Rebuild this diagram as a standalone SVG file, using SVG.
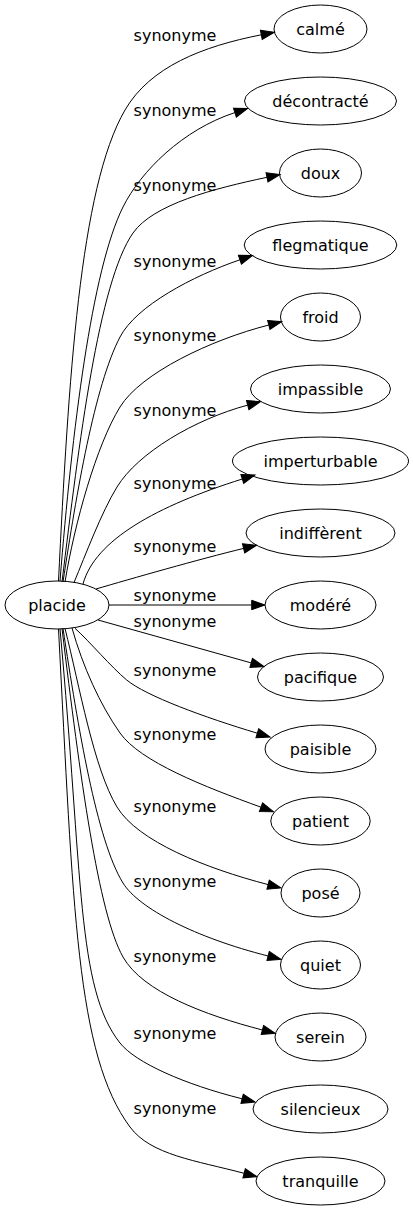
<svg xmlns="http://www.w3.org/2000/svg" width="413" height="1211" viewBox="0 0 413 1211">
<defs>
<style>
text{font-family:"DejaVu Sans","Liberation Sans",sans-serif;font-size:16px;fill:#000}
.n ellipse{fill:none;stroke:#000;stroke-width:1}
.n text{text-anchor:middle}
.e path{fill:none;stroke:#000;stroke-width:1;marker-end:url(#arr)}
.l text{text-anchor:middle}
</style>
<marker id="arr" markerUnits="userSpaceOnUse" markerWidth="15" markerHeight="11" refX="0" refY="4.7" orient="auto" overflow="visible">
<path d="M0,0 L13.3,4.7 L0,9.4 Z" fill="#000" stroke="#000" stroke-width="1"/>
</marker>
</defs>
<rect width="413" height="1211" fill="#fff"/>
<g id="edges" class="e">
<path d="M58.5,581 C68.5,381 79.7,187.9 125,110 C150.2,66.8 202.2,46.4 261.3,34.8"/>
<path d="M60,581 C72,431 91.7,269.6 123,207 C140.9,171.2 182.65,129.65 234.9,112.6"/>
<path d="M62,582 C79,443 98.6,282.1 133,233 C153.1,204.3 213.2,188.7 267,177.3"/>
<path d="M63,582 C76.5,493 94.6,385.8 120,337 C136.1,306 192.6,276 239.9,259.8"/>
<path d="M65,582 C74.7,522.8 96.4,445.3 120,407 C141,373 210.7,339.8 268.8,325"/>
<path d="M74,582.5 C85.6,554.8 101.3,512.6 117,487 C137.9,452.9 194.6,419.3 247.7,405.1"/>
<path d="M83,584 C95,540 156.4,506.1 242.3,479"/>
<path d="M96,589 C130,579 200,559 243.6,548.4"/>
<path d="M109,605 L251.7,605"/>
<path d="M98,620 L251.2,662.9"/>
<path d="M75,628.3 C89.8,641.7 111.3,667.2 126.7,680 C146,696 204.6,717.4 257.3,733.2"/>
<path d="M72,628 C82.8,666.5 99.9,704.4 120,733 C140.1,761.6 204.6,786.8 261,807.2"/>
<path d="M65,628.5 C79.6,686.2 93.7,768.5 117,807 C137.7,841.2 205.25,868.2 268.1,884.6"/>
<path d="M63,628.5 C78,727 96.65,840.5 123,883 C138.8,908.5 195.4,937.6 268.1,956"/>
<path d="M62,628.5 C80,777 98.4,913.5 123,957 C142.7,991.8 204.3,1014.9 262.4,1030"/>
<path d="M60,629 C83,878 76.6,988.1 120,1043 C135.5,1062.6 183.9,1084.2 242.1,1098.8"/>
<path d="M58.5,629 C73.3,908.6 76.2,1054.8 130,1127 C150.9,1155.1 195.75,1160.5 244.1,1173.3"/>
</g>
<g id="labels" class="l">
<text x="175" y="41">synonyme</text>
<text x="175" y="116">synonyme</text>
<text x="175" y="191">synonyme</text>
<text x="175" y="267">synonyme</text>
<text x="175" y="341">synonyme</text>
<text x="175" y="416">synonyme</text>
<text x="175" y="489">synonyme</text>
<text x="175" y="552">synonyme</text>
<text x="175" y="601">synonyme</text>
<text x="175" y="627">synonyme</text>
<text x="175" y="676">synonyme</text>
<text x="175" y="740">synonyme</text>
<text x="175" y="812">synonyme</text>
<text x="175" y="887">synonyme</text>
<text x="175" y="962">synonyme</text>
<text x="175" y="1039">synonyme</text>
<text x="175" y="1114">synonyme</text>
</g>
<g id="placide" class="n"><ellipse cx="57" cy="605" rx="52" ry="24"/><text x="57" y="610.5">placide</text></g>
<g id="calme" class="n"><ellipse cx="320.5" cy="29" rx="46.5" ry="24"/><text x="320.5" y="34.5">calmé</text></g>
<g id="decontracte" class="n"><ellipse cx="320.5" cy="101" rx="76" ry="24"/><text x="320.5" y="106.5">décontracté</text></g>
<g id="doux" class="n"><ellipse cx="320.5" cy="173" rx="41" ry="24"/><text x="320.5" y="178.5">doux</text></g>
<g id="flegmatique" class="n"><ellipse cx="320.5" cy="245" rx="76.3" ry="24"/><text x="320.5" y="250.5">flegmatique</text></g>
<g id="froid" class="n"><ellipse cx="320.5" cy="317" rx="40" ry="24"/><text x="320.5" y="322.5">froid</text></g>
<g id="impassible" class="n"><ellipse cx="320.5" cy="389" rx="70" ry="24"/><text x="320.5" y="394.5">impassible</text></g>
<g id="imperturbable" class="n"><ellipse cx="320.5" cy="461" rx="88" ry="24"/><text x="320.5" y="466.5">imperturbable</text></g>
<g id="indifferent" class="n"><ellipse cx="320.5" cy="533" rx="74.5" ry="24"/><text x="320.5" y="538.5">indiffèrent</text></g>
<g id="modere" class="n"><ellipse cx="320.5" cy="605" rx="55.5" ry="24"/><text x="320.5" y="610.5">modéré</text></g>
<g id="pacifique" class="n"><ellipse cx="320.5" cy="677" rx="63" ry="24"/><text x="320.5" y="682.5">pacifique</text></g>
<g id="paisible" class="n"><ellipse cx="320.5" cy="749" rx="55.5" ry="24"/><text x="320.5" y="754.5">paisible</text></g>
<g id="patient" class="n"><ellipse cx="320.5" cy="821" rx="49.7" ry="24"/><text x="320.5" y="826.5">patient</text></g>
<g id="pose" class="n"><ellipse cx="320.5" cy="893" rx="39.5" ry="24"/><text x="320.5" y="898.5">posé</text></g>
<g id="quiet" class="n"><ellipse cx="320.5" cy="965" rx="40" ry="24"/><text x="320.5" y="970.5">quiet</text></g>
<g id="serein" class="n"><ellipse cx="320.5" cy="1037" rx="45.5" ry="24"/><text x="320.5" y="1042.5">serein</text></g>
<g id="silencieux" class="n"><ellipse cx="320.5" cy="1109" rx="67.5" ry="24"/><text x="320.5" y="1114.5">silencieux</text></g>
<g id="tranquille" class="n"><ellipse cx="320.5" cy="1181" rx="64.5" ry="24"/><text x="320.5" y="1186.5">tranquille</text></g>
</svg>
